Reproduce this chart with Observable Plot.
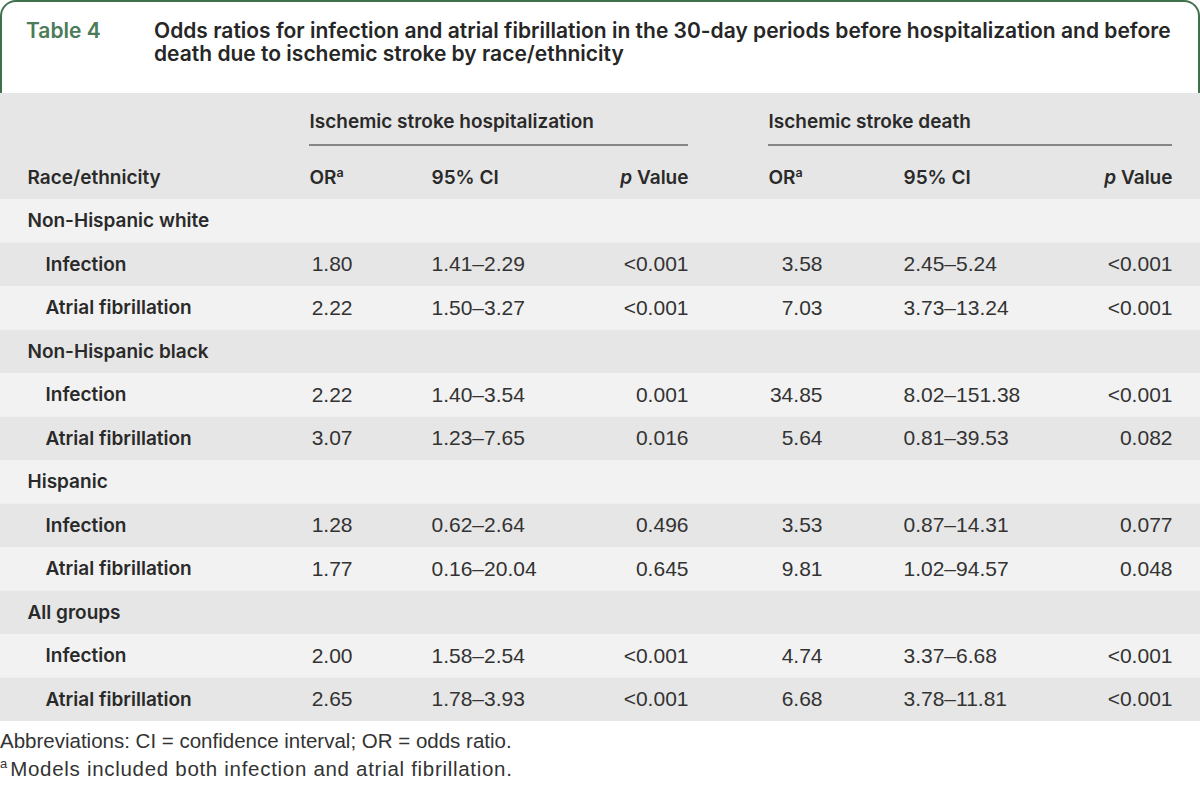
<!DOCTYPE html>
<html><head><meta charset="utf-8">
<script src="https://cdn.jsdelivr.net/npm/d3@7"></script>
<script src="https://cdn.jsdelivr.net/npm/@observablehq/plot@0.6"></script>
<style>
body{margin:0;background:#fff;width:1200px;overflow:hidden;}
#title{box-sizing:border-box;width:1200px;height:93px;border:2.5px solid #41704c;border-bottom:none;border-radius:16px 16px 0 0;position:relative;font-family:Inter,"Noto Sans",sans-serif;}
#tlabel{position:absolute;left:24px;top:17px;color:#4b7b58;font-weight:600;font-size:21px;line-height:24px;}
#ttext{position:absolute;left:152px;top:17px;width:1040px;color:#262626;font-weight:600;font-size:21px;line-height:23px;}
#chart svg{display:block}
#notes{font-family:"Liberation Sans",Arial,sans-serif;font-size:20.5px;color:#333;line-height:28px;margin-top:6px;}
#notes sup{font-size:13px;vertical-align:8px;line-height:0;margin-right:3px;}
#notes .l2{letter-spacing:0.7px;}
</style></head>
<body>
<div id="title"><div id="tlabel">Table 4</div><div id="ttext">Odds ratios for infection and atrial fibrillation in the 30-day periods before hospitalization and before<br>death due to ischemic stroke by race/ethnicity</div></div>
<div id="chart"></div>
<div id="notes">Abbreviations: CI = confidence interval; OR = odds ratio.<br><sup>a</sup><span class="l2">Models included both infection and atrial fibrillation.</span></div>
<script>
// ---- data ----
const groups = ["Non-Hispanic white", "Non-Hispanic black", "Hispanic", "All groups"];
const exposures = ["Infection", "Atrial fibrillation"];
const hospOR = ["1.80", "2.22", "2.22", "3.07", "1.28", "1.77", "2.00", "2.65"];
const hospCI = ["1.41–2.29", "1.50–3.27", "1.40–3.54", "1.23–7.65", "0.62–2.64", "0.16–20.04", "1.58–2.54", "1.78–3.93"];
const hospP = ["<0.001", "<0.001", "0.001", "0.016", "0.496", "0.645", "<0.001", "<0.001"];
const deathOR = ["3.58", "7.03", "34.85", "5.64", "3.53", "9.81", "4.74", "6.68"];
const deathCI = ["2.45–5.24", "3.73–13.24", "8.02–151.38", "0.81–39.53", "0.87–14.31", "1.02–94.57", "3.37–6.68", "3.78–11.81"];
const deathP = ["<0.001", "<0.001", "<0.001", "0.082", "0.077", "0.048", "<0.001", "<0.001"];
const spanners = ["Ischemic stroke hospitalization", "Ischemic stroke death"];
const colHeads = ["Race/ethnicity", "OR^a", "95% CI", "p Value", "OR^a", "95% CI", "p Value"];

// ---- layout ----
const W = 1200, ROW = 43.5, HEAD = 106;
const H0 = -HEAD / ROW;
const colX = {label: 27, sub: 45, hOR: 352, hCI: 431, hP: 688, dOR: 822, dCI: 903, dP: 1172};
const headPos = [
  {x: colX.label, a: "start"}, {x: 309, a: "start"}, {x: colX.hCI, a: "start"}, {x: colX.hP, a: "end"},
  {x: 768, a: "start"}, {x: colX.dCI, a: "start"}, {x: colX.dP, a: "end"}
];
const spanPos = [{x1: 309, x2: colX.hP}, {x1: 768, x2: colX.dP}];

const rows = [];
groups.forEach((g, gi) => {
  rows.push({label: g, level: 0});
  exposures.forEach((e, ei) => {
    const k = gi * 2 + ei;
    rows.push({label: e, level: 1, hOR: hospOR[k], hCI: hospCI[k], hP: hospP[k], dOR: deathOR[k], dCI: deathCI[k], dP: deathP[k]});
  });
});
rows.forEach((r, i) => { r.i = i; });
const vals = rows.filter(r => r.level === 1);
const bands = [{y1: H0, y2: 0, fill: "#e6e6e6"}].concat(rows.map(r => ({y1: r.i, y2: r.i + 1, fill: r.i % 2 ? "#e6e6e6" : "#f2f2f2"})));
const heads = colHeads.map((t, j) => ({t, ...headPos[j]}));
const spans = spanners.map((t, j) => ({t, ...spanPos[j]}));

const numFont = "'Liberation Sans', Arial, sans-serif";
const lblFont = "Inter, 'Noto Sans', sans-serif";
const cy = r => r.i + 0.5;
const lbl = {fontFamily: lblFont, fontWeight: 600, fontSize: 19, fill: "#2a2a2a"};
const numText = (key, anchor) => Plot.text(vals, {x: colX[key], y: cy, text: key, textAnchor: anchor, fontFamily: numFont, fontSize: 21, fill: "#333"});
const headText = anchor => Plot.text(heads.filter(h => h.a === anchor), {x: "x", y: H0 + 84 / ROW, text: "t", textAnchor: anchor, ...lbl});

const chart = Plot.plot({
  width: W, height: HEAD + ROW * rows.length, margin: 0,
  x: {type: "linear", domain: [0, W], range: [0, W], axis: null},
  y: {type: "linear", domain: [H0, rows.length], range: [0, HEAD + ROW * rows.length], axis: null},
  color: {type: "identity"},
  marks: [
    Plot.rect(bands, {x1: 0, x2: W, y1: "y1", y2: "y2", fill: "fill"}),
    Plot.text(spans, {x: "x1", y: H0 + 28 / ROW, text: "t", textAnchor: "start", ...lbl}),
    Plot.ruleY(spans, {x1: "x1", x2: "x2", y: H0 + 51.5 / ROW, stroke: "#666", strokeWidth: 1.5}),
    headText("start"), headText("end"),
    Plot.text(rows, {x: r => r.level ? colX.sub : colX.label, y: cy, text: "label", textAnchor: "start", ...lbl}),
    numText("hOR", "end"), numText("hCI", "start"), numText("hP", "end"),
    numText("dOR", "end"), numText("dCI", "start"), numText("dP", "end")
  ]
});

// rich text: italic p, superscript a
d3.select(chart).selectAll("text").each(function () {
  const s = this.textContent;
  if (s === "p Value") {
    this.textContent = "";
    d3.select(this).append("tspan").attr("font-style", "italic").text("p");
    d3.select(this).append("tspan").text(" Value");
  } else if (s.includes("^")) {
    const [a, b] = s.split("^");
    this.textContent = "";
    d3.select(this).append("tspan").text(a);
    d3.select(this).append("tspan").attr("font-size", 12.5).attr("dy", "-0.55em").text(b);
  }
});
document.getElementById("chart").appendChild(chart);
</script>
</body></html>
